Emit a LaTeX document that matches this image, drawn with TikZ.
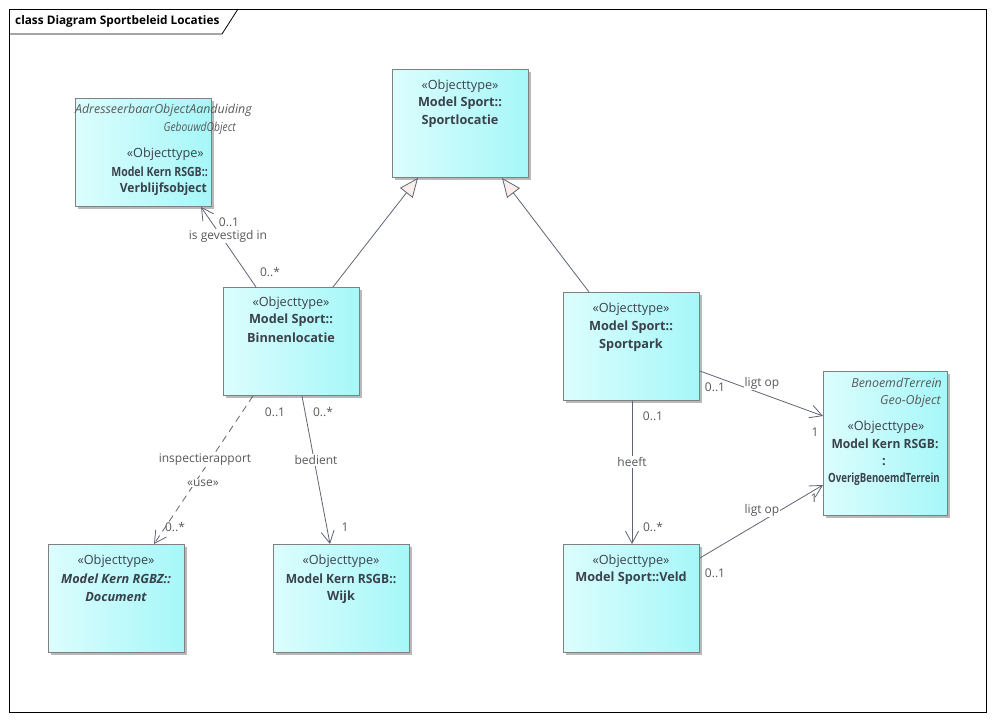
\documentclass[tikz,border=0pt]{standalone}
\usepackage{fontspec}
\usepackage{graphicx}
\setmainfont{Open Sans}
\usetikzlibrary{arrows.meta,shadows,calc}
\definecolor{boxL}{RGB}{220,253,253}
\definecolor{boxR}{RGB}{166,247,249}
\definecolor{boxD}{RGB}{128,128,128}
\definecolor{txt}{RGB}{58,66,76}
\definecolor{lbl}{RGB}{88,88,88}
\definecolor{conn}{RGB}{95,100,115}
\definecolor{genfill}{RGB}{250,238,234}
\definecolor{shad}{RGB}{185,185,185}
\tikzset{
  cls/.style={draw=boxD, line width=0.9pt, left color=boxL, right color=boxR,
    drop shadow={shadow xshift=3pt,shadow yshift=-3pt,fill=shad,opacity=1},
    anchor=north west, inner sep=0pt, minimum width=136pt, minimum height=108pt},
  st/.style={font=\fontsize{12.7}{15}\selectfont, text=txt, inner sep=0pt},
  nm/.style={font=\fontsize{12.7}{15}\selectfont\bfseries, text=txt, inner sep=0pt},
  ni/.style={font=\fontsize{12.7}{15}\selectfont\bfseries\itshape, text=txt, inner sep=0pt},
  it/.style={font=\fontsize{12.4}{15}\selectfont\itshape, text=txt, inner sep=0pt},
  lab/.style={font=\fontsize{12}{14}\selectfont, text=lbl, inner sep=1pt},
  labw/.style={lab, fill=white},
  assoc/.style={draw=conn, line width=0.8pt, -{Straight Barb[length=12pt,width=13pt,line width=0.8pt]}},
  gen/.style={draw=conn, line width=0.8pt, -{Triangle[length=19pt,width=16pt,fill=genfill,line width=0.8pt]}},
  dep/.style={assoc, dash pattern=on 7pt off 5pt},
}
\begin{document}
\begin{tikzpicture}[x=1pt,y=-1pt]
\useasboundingbox (0,0) rectangle (995,721);
% frame
\draw[black, line width=0.8pt] (9,9) rectangle (986,712);
\draw[black, line width=0.8pt] (9,34) -- (222,34) -- (238,9);
\node[anchor=west, font=\fontsize{11.8}{14}\selectfont\bfseries, inner sep=0pt] (title) at (15,21) {class Diagram Sportbeleid Locaties};

% boxes
\node[cls] (verb) at (75,98) {};
\node[cls] (spl) at (392,69) {};
\node[cls] (binn) at (223,287) {};
\node[cls] (spp) at (563,292) {};
\node[cls] (veld) at (563,544) {};
\node[cls, minimum width=124pt, minimum height=144pt] (bt) at (823,371) {};
\node[cls] (doc) at (48,544) {};
\node[cls] (wijk) at (273,544) {};

% box texts
\node[it, anchor=east, text=lbl] (v1) at (252,110) {AdresseerbaarObjectAanduiding};
\node[it, anchor=east, text=lbl] (v2) at (236,128) {\scalebox{0.83}[1]{GebouwdObject}};
\node[st, anchor=east] (v3) at (204,154) {«Objecttype»};
\node[nm, anchor=east] (v4) at (208,172) {\scalebox{0.83}[1]{Model Kern RSGB::}};
\node[nm, anchor=east] (v5) at (207,189) {\scalebox{0.95}[1]{Verblijfsobject}};

\node[st] (s1) at (460,86) {«Objecttype»};
\node[nm] (s2) at (460,103) {Model Sport::};
\node[nm] (s3) at (460,121) {Sportlocatie};

\node[st] (b1) at (291,303) {«Objecttype»};
\node[nm] (b2) at (291,320) {Model Sport::};
\node[nm] (b3) at (291,338) {Binnenlocatie};

\node[st] (p1) at (631,309) {«Objecttype»};
\node[nm] (p2) at (631,327) {Model Sport::};
\node[nm] (p3) at (631,345) {Sportpark};

\node[st] (f1) at (631,561) {«Objecttype»};
\node[nm] (f2) at (631,578) {Model Sport::Veld};

\node[st] (d1) at (116,561) {«Objecttype»};
\node[ni] (d2) at (116,579) {Model Kern RGBZ::};
\node[ni] (d3) at (116,597) {Document};

\node[st] (w1) at (341,561) {«Objecttype»};
\node[nm] (w2) at (341,579) {\scalebox{0.95}[1]{Model Kern RSGB::}};
\node[nm] (w3) at (341,597) {Wijk};

\node[it, anchor=east, text=lbl] (t1) at (942,383) {BenoemdTerrein};
\node[it, anchor=east, text=lbl] (t2) at (941,401) {Geo-Object};
\node[st] (t3) at (886,427) {«Objecttype»};
\node[nm] (t4) at (885,444) {\scalebox{0.95}[1]{Model Kern RSGB:}};
\node[nm] (t5) at (884,462) {:};
\node[nm] (t6) at (884,479) {\scalebox{0.76}[1]{OverigBenoemdTerrein}};

% connectors
\draw[assoc] ($(binn.north west)+(33,0)$) -- ($(verb.south west)+(126,0)$);
\draw[gen] ($(binn.north west)+(110,0)$) -- ($(spl.south west)+(26,0)$);
\draw[gen] ($(spp.north west)+(26,0)$) -- ($(spl.south west)+(110,0)$);
\draw[dep] ($(binn.south west)+(30,0)$) -- ($(doc.north west)+(106,0)$);
\draw[assoc] ($(binn.south west)+(79,0)$) -- ($(wijk.north west)+(57,0)$);
\draw[assoc] ($(spp.south west)+(69,0)$) -- ($(veld.north west)+(69,0)$);
\draw[assoc] ($(spp.north east)+(0,79)$) -- ($(bt.north west)+(0,45)$);
\draw[assoc] ($(veld.north east)+(0,14)$) -- ($(bt.north west)+(0,114)$);

% connector labels
\node[lab] (l1) at (229,222) {0..1};
\node[labw] (l2) at (228,236) {is gevestigd in};
\node[lab] (l3) at (270,272) {0..*};
\node[lab] (l4) at (275,412) {0..1};
\node[labw] (l5) at (205,460) {inspectierapport};
\node[labw] (l6) at (203,483) {«use»};
\node[lab] (l7) at (175,527) {0..*};
\node[lab] (l8) at (323,412) {0..*};
\node[labw] (l9) at (316,460) {bedient};
\node[lab] (l10) at (345,527) {1};
\node[lab] (l11) at (653,416) {0..1};
\node[labw] (l12) at (632,462) {heeft};
\node[lab] (l13) at (653,527) {0..*};
\node[lab] (l14) at (715,387) {0..1};
\node[labw] (l15) at (762,383) {ligt op};
\node[lab] (l16) at (815,432) {1};
\node[labw] (l17) at (762,510) {ligt op};
\node[lab] (l18) at (814,498) {1};
\node[lab] (l19) at (715,573) {0..1};
\end{tikzpicture}
\end{document}
